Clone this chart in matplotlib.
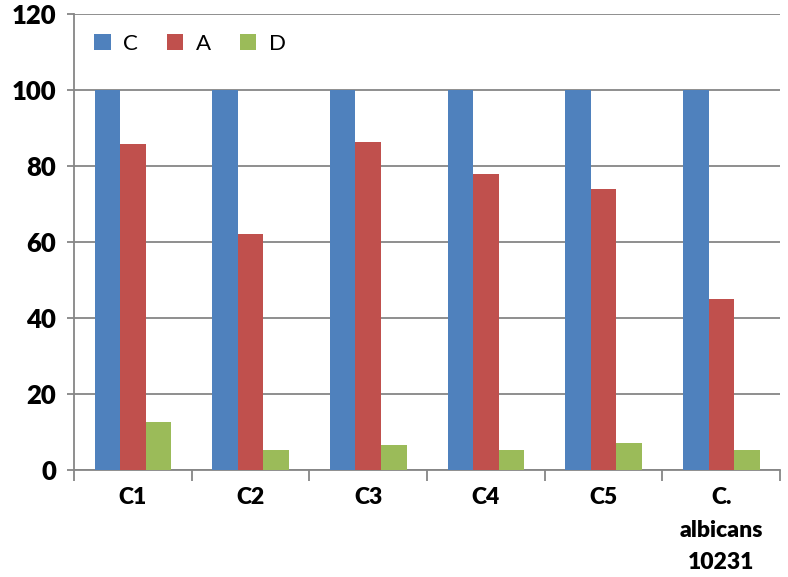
import matplotlib.pyplot as plt
import numpy as np

categories = ['C1', 'C2', 'C3', 'C4', 'C5', 'C.\nalbicans\n10231']
c_vals = [100, 100, 100, 100, 100, 100]
a_vals = [85.8, 62, 86.3, 78, 74, 45]
d_vals = [12.6, 5.3, 6.6, 5.3, 7.1, 5.3]

grey = '#868686'
fig = plt.figure(figsize=(7.88, 5.77), dpi=100)
ax = fig.add_axes([0.094, 0.1854, 0.896, 0.7903])

x = np.arange(len(categories))
w = 0.217
ax.bar(x - w, c_vals, w, color='#4F81BD', label='C', zorder=3)
ax.bar(x, a_vals, w, color='#C0504D', label='A', zorder=3)
ax.bar(x + w, d_vals, w, color='#9BBB59', label='D', zorder=3)

ax.set_xlim(-0.5, len(categories) - 0.5)
ax.set_ylim(0, 120)
ax.set_yticks(np.arange(0, 121, 20))
ax.grid(axis='y', color=grey, lw=1.3, zorder=0)

for s in ['top', 'right']:
    ax.spines[s].set_visible(False)
for s in ['left', 'bottom']:
    ax.spines[s].set_color(grey)
    ax.spines[s].set_linewidth(1.3)

ax.set_xticks(x)
ax.set_xticklabels(categories, fontsize=16.5, fontweight='heavy',
                   family='Lato', linespacing=1.7, va='top')
ax.set_xticks(np.arange(-0.5, len(categories), 1), minor=True)
ax.tick_params(axis='x', which='major', length=0, pad=12)
ax.tick_params(axis='x', which='minor', length=8, color=grey, width=1.3)
ax.tick_params(axis='y', length=5, color=grey, width=1.3, pad=8)
for lab in ax.get_yticklabels():
    lab.set_fontsize(18.5)
    lab.set_fontweight('heavy')
    lab.set_family('Lato')

ax.legend(loc='upper left', ncol=3, frameon=False, prop={'family': 'Lato', 'size': 16},
          handlelength=0.75, handleheight=0.75, columnspacing=1.3, handletextpad=0.55,
          bbox_to_anchor=(0.0, 1.0))

fig.savefig('out.png', dpi=100)
